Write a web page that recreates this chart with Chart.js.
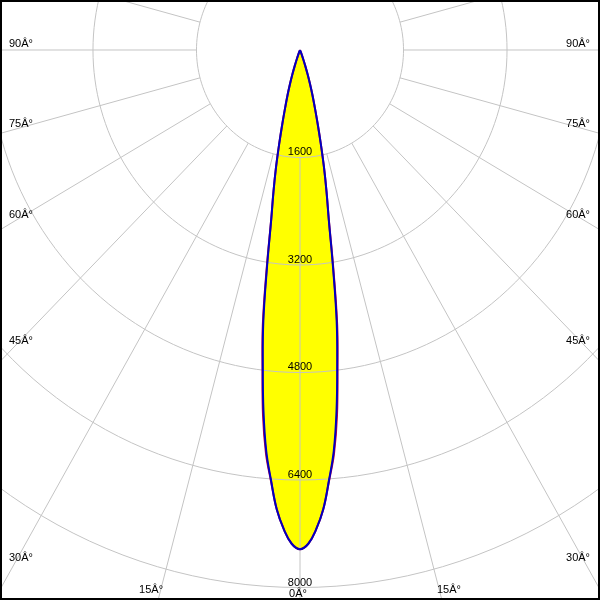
<!DOCTYPE html>
<html>
<head>
<meta charset="utf-8">
<script src="https://cdn.jsdelivr.net/npm/chart.js@4.4.0/dist/chart.umd.min.js"></script>
<style>
html, body { margin: 0; padding: 0; background: #fff; }
canvas { display: block; }
</style>
</head>
<body>
<canvas id="polar" width="600" height="600"></canvas>
<script>
// ── Data (candela vs. angle from nadir) ─────────────────────────────────────

const angleDeg = [0, 1, 2, 3, 4, 5, 6, 7, 8, 9, 10, 11, 12, 13, 14, 15, 16, 17, 18, 19, 20, 22, 25];
const c90Values = [7430, 7350, 7140, 6850, 6420, 5990, 5400, 4720, 4070, 3250, 2560, 2150, 1780, 1420, 1120, 880, 700, 530, 380, 250, 150, 50, 0];
const c0Values = [7430, 7350, 7140, 6850, 6430, 6030, 5470, 4760, 4130, 3290, 2570, 2150, 1780, 1420, 1120, 880, 700, 530, 380, 250, 150, 50, 0];

const ringValues = [1600, 3200, 4800, 6400, 8000];
const spokeAngles = [-165, -150, -135, -120, -105, -90, -75, -60, -45, -30, -15, 0, 15, 30, 45, 60, 75, 90, 105, 120, 135, 150, 165, 180];
const sideLabelAngles = [30, 45, 60, 75, 90];
const sideLabels = ['30Â°', '45Â°', '60Â°', '75Â°', '90Â°'];
const bottomLabels = ['0Â°', '15Â°'];

// visible window in candela units
const xRange = [-4637, 4637];
const yRange = [-8186, 744];

const gridColor = '#c4c4c4';
const blueColor = '#0000c0';
const redColor = '#c8003c';
const fillColor = '#ffff00';

// ── Helpers ─────────────────────────────────────────────────────────────────

function toXY(I, deg) {
  const r = deg * Math.PI / 180;
  return { x: I * Math.sin(r), y: -I * Math.cos(r) };
}

// both halves of the curve, closed through the centre
function curvePoints(values) {
  const pts = [];
  for (let i = angleDeg.length - 1; i >= 0; i--) pts.push(toXY(values[i], -angleDeg[i]));
  for (let i = 1; i < angleDeg.length; i++) pts.push(toXY(values[i], angleDeg[i]));
  return pts;
}

function px(chart, I, deg) {
  const p = toXY(I, deg);
  return { x: chart.scales.x.getPixelForValue(p.x), y: chart.scales.y.getPixelForValue(p.y) };
}

function spokeYAtX(chart, deg, xPix) {
  const c = px(chart, 0, 0), e = px(chart, 10000, deg);
  const t = (xPix - c.x) / (e.x - c.x);
  return c.y + t * (e.y - c.y);
}

function spokeXAtY(chart, deg, yPix) {
  const c = px(chart, 0, 0), e = px(chart, 10000, deg);
  const t = (yPix - c.y) / (e.y - c.y);
  return c.x + t * (e.x - c.x);
}

// ── Polar grid + labels plugin ──────────────────────────────────────────────

const polarGrid = {
  id: 'polarGrid',
  afterDatasetDraw(chart, args) {
    if (args.index !== 2) return; // right after the yellow fill
    const ctx = chart.ctx;
    ctx.save();
    ctx.strokeStyle = gridColor;
    ctx.lineWidth = 1;
    ringValues.forEach(v => {
      ctx.beginPath();
      for (let d = 0; d <= 360; d += 2) {
        const p = px(chart, v, d);
        if (d === 0) ctx.moveTo(p.x, p.y); else ctx.lineTo(p.x, p.y);
      }
      ctx.closePath();
      ctx.stroke();
    });
    ctx.beginPath();
    spokeAngles.forEach(d => {
      const a = px(chart, ringValues[0], d);
      const b = px(chart, 20000, d);
      ctx.moveTo(a.x, a.y);
      ctx.lineTo(b.x, b.y);
    });
    ctx.stroke();
    ctx.restore();
  },
  afterDraw(chart) {
    const ctx = chart.ctx;
    ctx.save();
    ctx.font = "11px 'Liberation Sans', Arial, sans-serif";
    ctx.fillStyle = '#000';
    ctx.textBaseline = 'alphabetic';

    // ring values along the 0° axis
    ctx.textAlign = 'center';
    ringValues.forEach(v => {
      const p = px(chart, v, 0);
      ctx.fillText(String(v), p.x, p.y - 2);
    });

    // angle labels on both sides
    sideLabelAngles.forEach((a, i) => {
      ctx.textAlign = 'left';
      ctx.fillText(sideLabels[i], 9, spokeYAtX(chart, -a, 14) - 3);
      ctx.textAlign = 'right';
      ctx.fillText(sideLabels[i], 590, spokeYAtX(chart, a, 586) - 3);
    });

    // bottom labels
    const xl = spokeXAtY(chart, -15, 600);
    const xr = spokeXAtY(chart, 15, 600);
    ctx.textAlign = 'right';
    ctx.fillText(bottomLabels[1], xl + 5, 593);
    ctx.textAlign = 'left';
    ctx.fillText(bottomLabels[1], xr - 5, 593);
    ctx.textAlign = 'center';
    ctx.fillText(bottomLabels[0], px(chart, 0, 0).x - 2, 597);

    // frame
    ctx.strokeStyle = '#000';
    ctx.lineWidth = 2;
    ctx.strokeRect(1, 1, chart.width - 2, chart.height - 2);
    ctx.restore();
  }
};

// ── Chart ───────────────────────────────────────────────────────────────────

new Chart(document.getElementById('polar'), {
  type: 'scatter',
  data: {
    datasets: [
      {
        label: 'C90-C270',
        data: curvePoints(c90Values),
        showLine: true,
        borderColor: blueColor,
        borderWidth: 2,
        pointRadius: 0,
        fill: false,
        tension: 0.4,
      },
      {
        label: 'C0-C180',
        data: curvePoints(c0Values),
        showLine: true,
        borderColor: redColor,
        borderWidth: 2,
        pointRadius: 0,
        fill: false,
        tension: 0.4,
      },
      {
        label: 'fill',
        data: curvePoints(c0Values),
        showLine: true,
        borderWidth: 0,
        borderColor: 'rgba(0,0,0,0)',
        backgroundColor: fillColor,
        pointRadius: 0,
        fill: 'shape',
        tension: 0.4,
      }
    ]
  },
  options: {
    responsive: false,
    animation: false,
    layout: { padding: 0 },
    plugins: {
      legend: { display: false },
      tooltip: { enabled: false }
    },
    scales: {
      x: { type: 'linear', display: false, min: xRange[0], max: xRange[1] },
      y: { type: 'linear', display: false, min: yRange[0], max: yRange[1] }
    }
  },
  plugins: [polarGrid]
});
</script>
</body>
</html>
